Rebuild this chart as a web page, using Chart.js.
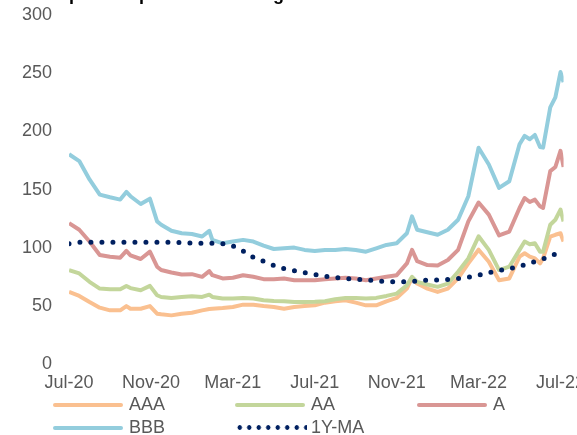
<!DOCTYPE html>
<html>
<head>
<meta charset="utf-8">
<script src="https://cdn.jsdelivr.net/npm/chart.js@4.4.1/dist/chart.umd.min.js"></script>
<style>
  html, body { margin: 0; padding: 0; background: #fff; overflow: hidden; }
  body { width: 577px; height: 435px; position: relative; font-family: "Liberation Sans", Arial, sans-serif; }
  #wrap { position: absolute; left: 0; top: 0; width: 593px; height: 402px; }
  #legend { position: absolute; left: 53px; top: 393px; display: grid; grid-template-columns: repeat(3, 182px); }
  .item { display: flex; align-items: center; height: 23px; color: #595959; font-size: 18px; }
  .swatch { width: 70px; height: 4px; border-radius: 2px; margin-right: 6px; }
  .dots { width: 72px; height: 5px; margin-right: 4px; }
</style>
</head>
<body>
<div id="wrap"><canvas id="chart"></canvas></div>
<div id="legend"></div>
<script>
// months since Jul-20
const months = [0, 0.5, 1, 1.5, 2, 2.5, 2.8, 3, 3.5, 3.95, 4.3, 4.5, 5, 5.5, 6, 6.5, 6.85, 7, 7.5, 8,
  8.5, 9, 9.5, 10, 10.5, 11, 11.5, 12, 12.5, 13, 13.5, 14, 14.5, 15, 15.5, 16, 16.5, 16.75, 17, 17.5,
  18, 18.5, 19, 19.5, 20, 20.5, 21, 21.5, 22, 22.25, 22.5, 22.75, 23, 23.15, 23.5, 23.75, 24, 24.15];

const aaa = [62.2, 58.8, 53.6, 48.7, 46.4, 46.4, 50.1, 47.8, 47.8, 50.1, 43.5, 43, 42.1, 43.5, 44.4, 46.4, 47.5, 47.8, 48.4, 49.3,
  51.3, 51.3, 50.1, 49.3, 47.8, 49.3, 50.1, 50.7, 53, 54.2, 55.1, 53, 50.7, 50.7, 54.2, 57.1, 65.1, 74.4, 69.4, 65.1,
  62.2, 65.1, 73.8, 86.7, 98.5, 88.2, 72.3, 73.8, 92.5, 95.4, 92.5, 91, 86.7, 91, 109.8, 111.3, 112.6, 105.5];

const aa = [81, 78.1, 70.9, 65.1, 64.5, 64.5, 67.4, 65.5, 63.7, 67.4, 59.4, 57.9, 57.1, 57.9, 58.5, 57.9, 59.9, 57.9, 56.5, 56.5,
  57.1, 56.5, 55.1, 54.5, 54.2, 53.6, 53.6, 53.8, 54.2, 56, 57.1, 57.1, 56.5, 57.1, 58.8, 60.8, 68, 75.2, 70.9, 68.6,
  66.6, 69.4, 79.5, 91, 110, 98.3, 81, 83.9, 98.3, 105.5, 103.1, 104, 96.8, 96.8, 119.9, 124.2, 132.9, 122.8];

const singleA = [121.3, 115.6, 105.5, 94, 92.5, 91.6, 97.4, 93.7, 90.5, 96.8, 83.9, 81, 78.9, 77.2, 77.5, 75.2, 80.1, 76.6, 73.8, 74.4,
  76.6, 75.2, 73.2, 73.2, 73.8, 72.3, 72.3, 72.3, 73.2, 73.8, 74.4, 73.8, 72.3, 73.8, 75.2, 76.6, 86.7, 98.3, 88.7, 85.3,
  85, 89.6, 98.3, 122.8, 139, 128.6, 110.7, 114.1, 134.3, 142.9, 139.4, 141.5, 135.7, 134.3, 166, 169.5, 183.3, 169.5];

const bbb = [180.4, 174.6, 158.8, 145.8, 143.5, 141.5, 148.1, 144.4, 137.7, 142.3, 122.8, 119.9, 114.7, 112.6, 112, 109.8, 114.7, 106.9, 104, 105.5,
  106.9, 105.5, 102, 99.1, 99.7, 100.3, 98.3, 97.4, 98.3, 98.3, 99.1, 98.3, 96.8, 99.7, 102.6, 104, 112.6, 127.1, 115.6, 113.5,
  111.3, 115.6, 124.2, 144.4, 186, 171.7, 151.6, 157.3, 189, 196.2, 193.3, 197, 186.7, 186.1, 220.7, 229.3, 251, 242.3];

const movingAvg = [103.6, 104.8, 104.8, 104.8, 104.8, 104.8, 104.8, 104.8, 104.8, 104.8, 104.8, 104.8, 104.8, 104.6, 104.2, 104, 104, 104, 103.7, 101.7,
  97.4, 92, 88.5, 85, 82.2, 80.5, 78.8, 77.1, 75.6, 74.7, 73.8, 73.2, 72.6, 71.8, 71, 70.9, 70.9, 71.2, 71.5, 72.4,
  72.5, 72.8, 73.8, 74.8, 76.5, 78.8, 80.8, 82.2, 84.2, 85.5, 86.9, 88.3, 89.6, 90.5, 92.8, 94.8, 96.5, null];

const tickMonths = [0, 4, 8, 12, 16, 20, 24];
const tickLabels = ["Jul-20", "Nov-20", "Mar-21", "Jul-21", "Nov-21", "Mar-22", "Jul-22"];
const titleText = "Corporate spreads are rising";

const fontFamily = '"Liberation Sans", Arial, sans-serif';
const grey = "#595959";

// title is cut off at the top of the picture, only the descenders show
const cutTitle = {
  id: "cutTitle",
  afterDraw(chart) {
    const ctx = chart.ctx;
    ctx.save();
    ctx.font = "bold 18px " + fontFamily;
    ctx.fillStyle = "#000";
    ctx.textBaseline = "alphabetic";
    ctx.fillText(titleText, 38, 0);
    ctx.restore();
  }
};

function line(label, data, color, order) {
  return { label, data, borderColor: color, backgroundColor: color, borderWidth: 4, order };
}

const chart = new Chart(document.getElementById("chart"), {
  type: "line",
  data: {
    labels: months,
    datasets: [
      line("AAA", aaa, "#FAC090", 5),
      line("AA", aa, "#C3D69B", 4),
      line("A", singleA, "#D99694", 3),
      line("BBB", bbb, "#93CDDD", 2),
      {
        label: "1Y-MA", data: movingAvg, borderColor: "#002060", backgroundColor: "#002060",
        borderWidth: 5, borderDash: [0, 11], borderCapStyle: "round", order: 1
      }
    ]
  },
  options: {
    responsive: true,
    maintainAspectRatio: false,
    animation: false,
    layout: { padding: { left: 5, top: 15, right: 0, bottom: 0 } },
    elements: {
      point: { radius: 0, hoverRadius: 0 },
      line: { tension: 0, borderJoinStyle: "round" }
    },
    plugins: {
      legend: { display: false },
      tooltip: { enabled: false }
    },
    scales: {
      x: {
        type: "linear",
        min: 0,
        max: 24.15,
        afterBuildTicks: s => { s.ticks = tickMonths.map(v => ({ value: v })); },
        grid: { display: false, drawTicks: false },
        border: { display: false },
        ticks: {
          autoSkip: false, maxRotation: 0, padding: 8, color: grey,
          font: { size: 18, family: fontFamily },
          callback: (v, i) => tickLabels[i]
        }
      },
      y: {
        min: 0,
        max: 300,
        // the tick padding should not push the plot down from the top
        afterFit: s => { s.paddingTop = 0; s.paddingBottom = 0; },
        grid: { display: false, drawTicks: false },
        border: { display: false },
        ticks: { stepSize: 50, padding: 17, color: grey, font: { size: 18, family: fontFamily } }
      }
    }
  },
  plugins: [cutTitle]
});

// legend in fixed columns, like the original
const legendBox = document.getElementById("legend");
chart.data.datasets.forEach(ds => {
  let item = document.createElement("div");
  item.className = "item";
  let sw = document.createElement("span");
  if (ds.borderDash) {
    sw.className = "dots";
    sw.style.background = "radial-gradient(circle, " + ds.borderColor + " 2px, transparent 2.6px) 0 50% / 9.5px 5px repeat-x";
  } else {
    sw.className = "swatch";
    sw.style.background = ds.borderColor;
  }
  let txt = document.createElement("span");
  txt.innerText = ds.label;
  item.appendChild(sw);
  item.appendChild(txt);
  legendBox.appendChild(item);
});
</script>
</body>
</html>
